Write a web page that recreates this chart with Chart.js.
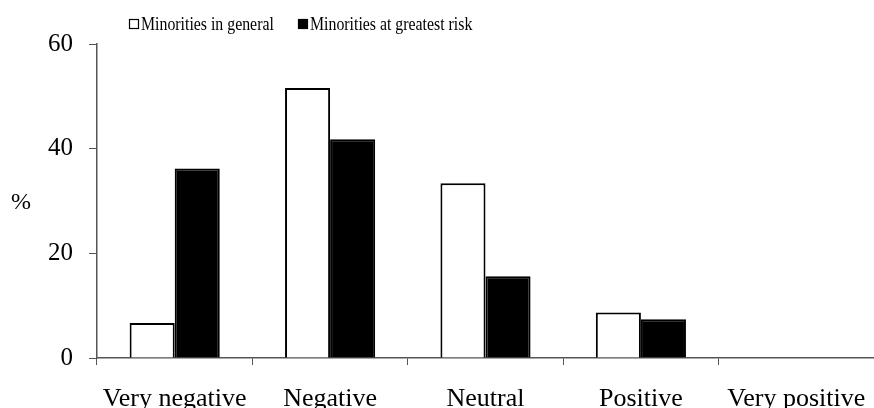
<!DOCTYPE html>
<html>
<head>
<meta charset="utf-8">
<title>Attitudes towards minorities</title>
<script src="https://cdn.jsdelivr.net/npm/chart.js@4.4.0/dist/chart.umd.min.js"></script>
<style>
  body { margin: 0; background: #fff; }
  #wrap { width: 874px; height: 408px; position: relative; }
</style>
</head>
<body>
<div id="wrap"><canvas id="myChart"></canvas></div>
<script>
// categories and values (%)
const categories = ["Very negative", "Negative", "Neutral", "Positive", "Very positive"];
const generalLabel = "Minorities in general";
const riskLabel = "Minorities at greatest risk";
const generalValues = [6.7, 51.6, 33.4, 8.7, 0];
const riskValues = [36.2, 41.8, 15.6, 7.4, 0];
const yTicks = [0, 20, 40, 60];

const serif = "'Liberation Serif', 'Times New Roman', serif";

// legend boxes + "%" label drawn by hand, like the original
const extras = {
  id: "extras",
  afterDraw(chart) {
    const ctx = chart.ctx;
    ctx.save();
    ctx.fillStyle = "#000";
    ctx.textBaseline = "alphabetic";
    const items = [
      { x: 129, fill: "#fff", text: chart.data.datasets[0].label },
      { x: 298, fill: "#000", text: chart.data.datasets[1].label },
    ];
    items.forEach((it) => {
      ctx.fillStyle = it.fill;
      ctx.fillRect(it.x, 19, 10, 10);
      ctx.strokeStyle = "#000";
      ctx.lineWidth = 1.2;
      ctx.strokeRect(it.x + 0.5, 19.5, 9, 9);
      ctx.fillStyle = "#000";
      // original legend text is a bit narrow, so squeeze it
      ctx.save();
      ctx.translate(it.x + 12, 30);
      ctx.scale(0.88, 1);
      ctx.font = "18px " + serif;
      ctx.fillText(it.text, 0, 0);
      ctx.restore();
    });
    ctx.font = "24px " + serif;
    ctx.textBaseline = "middle";
    ctx.fillText("%", 11, 203);
    ctx.restore();
  },
};

const ctxChart = document.getElementById("myChart");
let myChart = new Chart(ctxChart, {
  type: "bar",
  data: {
    labels: categories,
    datasets: [
      {
        label: generalLabel,
        data: generalValues,
        backgroundColor: "#fff",
        borderColor: "#000",
        borderWidth: 2,
      },
      {
        label: riskLabel,
        data: riskValues,
        backgroundColor: "#000",
        borderColor: "#000",
        borderWidth: 2,
      },
    ],
  },
  options: {
    responsive: true,
    maintainAspectRatio: false,
    animation: false,
    layout: { padding: { top: 44, right: 0, bottom: 0, left: 0 } },
    datasets: {
      bar: { categoryPercentage: 0.58, barPercentage: 1.0 },
    },
    plugins: {
      legend: { display: false },
      tooltip: { enabled: false },
    },
    scales: {
      x: {
        grid: {
          offset: true,
          drawOnChartArea: false,
          tickLength: 7,
          color: "#555",
        },
        border: { color: "#555", width: 1.5 },
        ticks: {
          color: "#000",
          font: { family: serif, size: 26 },
          padding: 19,
          maxRotation: 0,
        },
        afterFit(scale) {
          scale.height = 50;
          scale.paddingLeft = 0;
          scale.paddingRight = 0;
        },
      },
      y: {
        min: 0,
        max: 60,
        afterBuildTicks(scale) {
          scale.ticks = yTicks.map((v) => ({ value: v }));
        },
        grid: {
          drawOnChartArea: false,
          tickLength: 8,
          color: "#555",
        },
        border: { color: "#555", width: 1.5 },
        ticks: {
          color: "#000",
          font: { family: serif, size: 25 },
          padding: 16,
        },
        afterFit(scale) {
          scale.width = 97;
        },
      },
    },
  },
  plugins: [extras],
});
</script>
</body>
</html>
